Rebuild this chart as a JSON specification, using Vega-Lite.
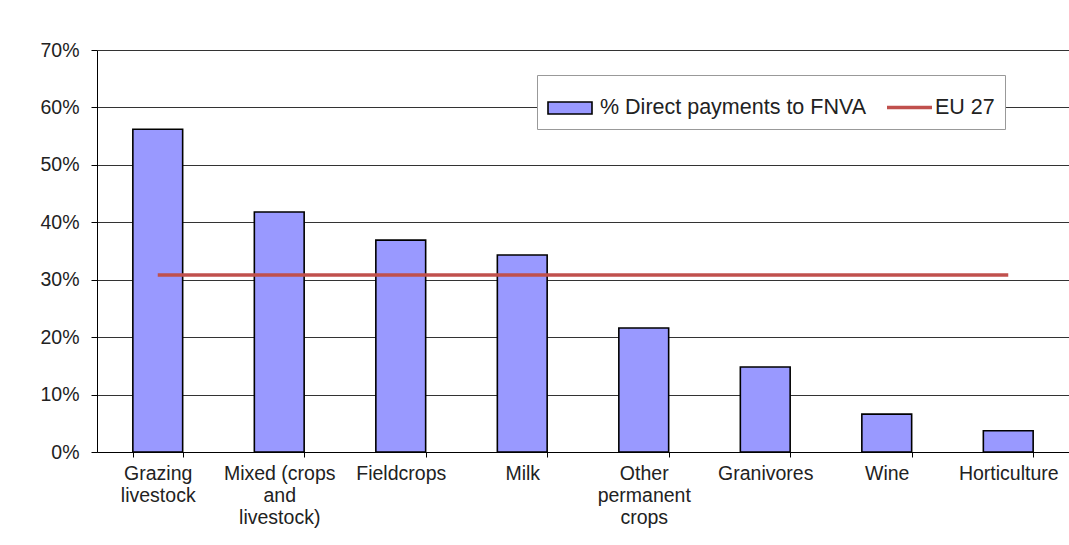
{
  "$schema": "https://vega.github.io/schema/vega-lite/v6.json",
  "width": 972,
  "height": 402,
  "autosize": {"type": "none"},
  "padding": {"left": 97, "top": 50, "right": 0, "bottom": 93},
  "background": "white",
  "config": {
    "view": {"stroke": null},
    "font": "Liberation Sans"
  },
  "data": {
    "values": [
      {"category": "Grazing livestock", "share": 0.562, "eu": 0.308},
      {"category": "Mixed (crops and livestock)", "share": 0.418, "eu": 0.308},
      {"category": "Fieldcrops", "share": 0.369, "eu": 0.308},
      {"category": "Milk", "share": 0.343, "eu": 0.308},
      {"category": "Other permanent crops", "share": 0.216, "eu": 0.308},
      {"category": "Granivores", "share": 0.148, "eu": 0.308},
      {"category": "Wine", "share": 0.066, "eu": 0.308},
      {"category": "Horticulture", "share": 0.037, "eu": 0.308}
    ]
  },
  "encoding": {
    "x": {
      "field": "category",
      "type": "nominal",
      "sort": null,
      "scale": {"paddingInner": 0.59, "paddingOuter": 0.295},
      "axis": {
        "title": null,
        "labelAngle": 0,
        "tickBand": "extent",
        "domainColor": "black",
        "tickColor": "black",
        "tickSize": 5,
        "labelFontSize": 19.5,
        "labelColor": "#222",
        "labelPadding": 7,
        "labelLineHeight": 22,
        "labelBaseline": "top",
        "labelLimit": 0,
        "labelExpr": "datum.label == 'Grazing livestock' ? ['Grazing','livestock'] : datum.label == 'Mixed (crops and livestock)' ? ['Mixed (crops','and','livestock)'] : datum.label == 'Other permanent crops' ? ['Other','permanent','crops'] : datum.label"
      }
    }
  },
  "layer": [
    {
      "mark": {"type": "bar", "stroke": "black", "strokeWidth": 1.6},
      "encoding": {
        "y": {
          "field": "share",
          "type": "quantitative",
          "scale": {"domain": [0, 0.7]},
          "axis": {
            "title": null,
            "format": ".0%",
            "values": [0, 0.1, 0.2, 0.3, 0.4, 0.5, 0.6, 0.7],
            "grid": true,
            "gridColor": "#333",
            "gridWidth": 1,
            "domainColor": "black",
            "tickColor": "black",
            "tickSize": 6,
            "labelFontSize": 19.5,
            "labelColor": "#222",
            "labelPadding": 12
          }
        },
        "fill": {
          "datum": "% Direct payments to FNVA",
          "type": "nominal",
          "scale": {"range": ["#9999ff"]},
          "legend": {
            "title": "EU 27",
            "titleOrient": "right",
            "titleAnchor": "middle",
            "titleBaseline": "line-top",
            "titleLineHeight": 12,
            "titlePadding": 69,
            "titleFontSize": 21.5,
            "titleFontWeight": "normal",
            "titleColor": "#222",
            "orient": "none",
            "legendX": 440,
            "legendY": 25,
            "direction": "horizontal",
            "fillColor": "white",
            "strokeColor": "#999",
            "padding": 10,
            "labelFontSize": 21.5,
            "labelColor": "#222",
            "labelOffset": 7,
            "labelLimit": 0,
            "symbolType": "M-1,-0.27H1V0.27H-1Z",
            "symbolSize": 1936,
            "symbolStrokeColor": "black",
            "symbolStrokeWidth": 1.6,
            "symbolOpacity": 1
          }
        }
      }
    },
    {
      "mark": {"type": "line", "strokeWidth": 3.5},
      "encoding": {
        "y": {"field": "eu", "type": "quantitative"},
        "stroke": {
          "datum": "EU 27",
          "type": "nominal",
          "scale": {"range": ["#c0504d"]},
          "legend": {
            "title": null,
            "orient": "none",
            "legendX": 778,
            "legendY": 23,
            "direction": "horizontal",
            "padding": 10,
            "labelFontSize": 21.5,
            "labelExpr": "''",
            "labelOffset": 0,
            "symbolType": "M-1,0H1",
            "symbolSize": 2025,
            "symbolStrokeWidth": 3.5,
            "symbolOpacity": 1
          }
        }
      }
    }
  ]
}
